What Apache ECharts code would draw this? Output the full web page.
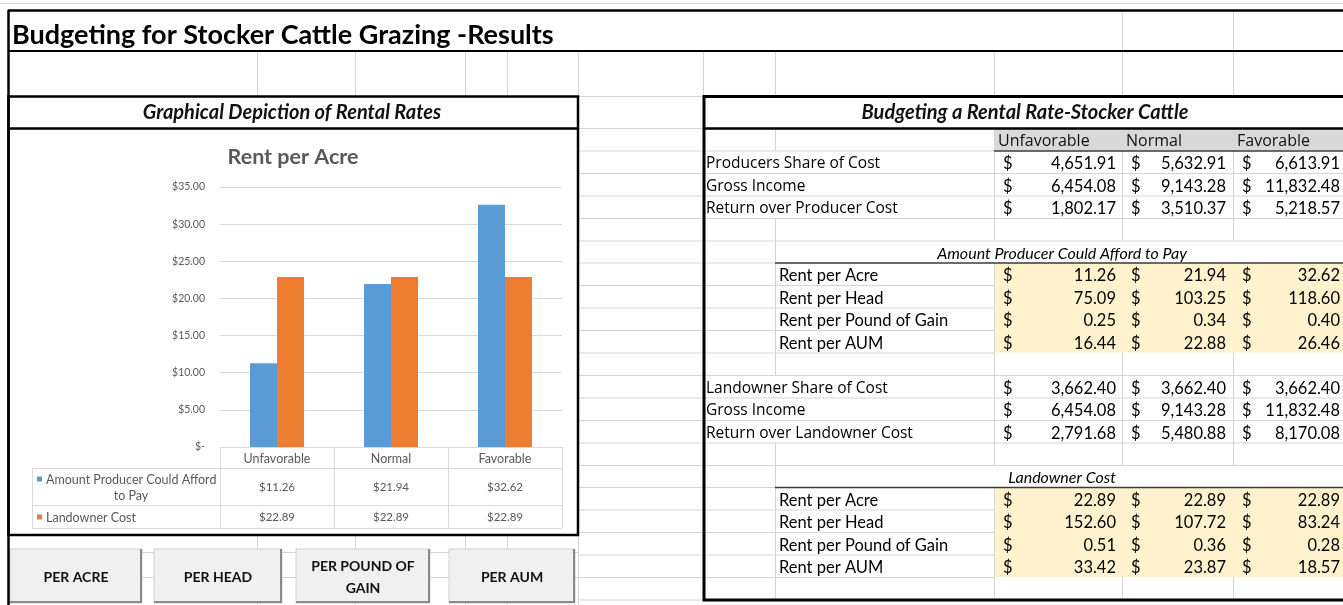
<!DOCTYPE html>
<html><head><meta charset="utf-8">
<script src="https://cdn.jsdelivr.net/npm/echarts@6/dist/echarts.min.js"></script>
<style>html,body{margin:0;padding:0;background:#fff;overflow:hidden}#c{width:1343px;height:605px}</style>
</head><body><div id="c"></div>
<script>
// ---------- data ----------
const categories = ['Unfavorable', 'Normal', 'Favorable'];
const producerAfford = [11.26, 21.94, 32.62];
const landownerCost = [22.89, 22.89, 22.89];
const seriesNames = ['Amount Producer Could Afford to Pay', 'Landowner Cost'];
const yMin = 0, yMax = 35, yStep = 5;

const producerShareOfCost = [4651.91, 5632.91, 6613.91];
const producerGrossIncome = [6454.08, 9143.28, 11832.48];
const returnOverProducerCost = [1802.17, 3510.37, 5218.57];
const affordRentPerAcre = [11.26, 21.94, 32.62];
const affordRentPerHead = [75.09, 103.25, 118.60];
const affordRentPerPound = [0.25, 0.34, 0.40];
const affordRentPerAUM = [16.44, 22.88, 26.46];
const landownerShareOfCost = [3662.40, 3662.40, 3662.40];
const landownerGrossIncome = [6454.08, 9143.28, 11832.48];
const returnOverLandownerCost = [2791.68, 5480.88, 8170.08];
const landownerRentPerAcre = [22.89, 22.89, 22.89];
const landownerRentPerHead = [152.60, 107.72, 83.24];
const landownerRentPerPound = [0.51, 0.36, 0.28];
const landownerRentPerAUM = [33.42, 23.87, 18.57];
const rentLabels = ['Rent per Acre', 'Rent per Head', 'Rent per Pound of Gain', 'Rent per AUM'];
const buttonLabels = ['PER ACRE', 'PER HEAD', 'PER POUND OF\nGAIN', 'PER AUM'];

// ---------- styles ----------
const CAL = 'Lato, "Open Sans", sans-serif';
const SEG = '"Open Sans", "Noto Sans", sans-serif';
const GRIDC = '#d4d4d4';
const CHARTTXT = '#595959';

const chart = echarts.init(document.getElementById('c'), null, {renderer: 'canvas', width: 1343, height: 605});

chart.setOption({
  animation: false,
  backgroundColor: '#ffffff',
  title: {
    text: 'Rent per Acre', left: 288, top: 141, textAlign: 'center',
    textStyle: {fontFamily: CAL, fontWeight: 'bold', fontSize: 21.5, color: CHARTTXT}
  },
  grid: {left: 220, right: 781, top: 187, bottom: 158, containLabel: false},
  xAxis: {
    type: 'category', data: categories,
    axisLine: {lineStyle: {color: '#d9d9d9'}}, axisTick: {show: false}, axisLabel: {show: false}
  },
  yAxis: {
    type: 'value', min: yMin, max: yMax, interval: yStep,
    axisLine: {show: false}, axisTick: {show: false},
    axisLabel: {
      formatter: v => v === 0 ? '$-' : '$' + v.toFixed(2),
      fontFamily: CAL, fontSize: 10.5, color: CHARTTXT, margin: 15
    },
    splitLine: {lineStyle: {color: '#d9d9d9'}}
  },
  series: [
    {type: 'bar', name: seriesNames[0], data: producerAfford, barWidth: 27, barGap: '0%', itemStyle: {color: '#5b9bd5'}},
    {type: 'bar', name: seriesNames[1], data: landownerCost, barWidth: 27, barGap: '0%', itemStyle: {color: '#ed7d31'}}
  ]
});

// ---------- helpers ----------
const G = [];
function L(x1, y1, x2, y2, stroke, w, z) {
  G.push({type: 'line', silent: true, z: z || 1, shape: {x1, y1, x2, y2}, style: {stroke, lineWidth: w || 1}});
}
function R(x, y, w, h, fill, stroke, lw, z) {
  G.push({type: 'rect', silent: true, z: z || 0, shape: {x, y, width: w, height: h},
    style: {fill: fill || 'none', stroke: stroke || 'none', lineWidth: lw || 0}});
}
function T(x, y, text, font, align, fill, z) {
  G.push({type: 'text', silent: true, z: z || 5, x, y,
    style: {text, font, fill: fill || '#000', textAlign: align || 'left', align: align || 'left',
      textVerticalAlign: 'middle', verticalAlign: 'middle'}});
}
const fmt = v => v.toLocaleString('en-US', {minimumFractionDigits: 2, maximumFractionDigits: 2});

// ---------- sheet gridlines ----------
const RH = 22.45, R0 = 128;
const rowTop = i => Math.round((R0 + i * RH) * 2) / 2;
L(0, 3.5, 1343, 3.5, GRIDC);
[1122.5, 1233.5].forEach(x => L(x, 10, x, 51, GRIDC));
[257.5, 355.5, 465.5, 507.5, 578.5, 703.5, 775.5, 994.5, 1122.5, 1233.5].forEach(x => L(x, 51, x, 96, GRIDC));
L(578, 96.5, 703, 96.5, GRIDC);
for (let i = 0; i <= 22; i++) { const y = rowTop(i) + 0.5; L(578, y, 703, y, GRIDC); }
[257.5, 355.5, 465.5, 507.5, 578.5].forEach(x => L(x, 535, x, 605, GRIDC));
L(8, 552.5, 578, 552.5, GRIDC);
L(8, 577.5, 578, 577.5, GRIDC);

// ---------- right table ----------
const colL = [994, 1122, 1233];
const dollarX = [1003, 1131, 1242];
const numR = [1116, 1226, 1340];
const yellow = '#fff2cc';
R(994, rowTop(0), 349, rowTop(1) - rowTop(0), '#d9d9d9');
R(994, rowTop(6), 349, rowTop(10) - rowTop(6), yellow);
R(994, rowTop(16), 349, rowTop(20) - rowTop(16), yellow);

const rowKinds = ['hdr', 'lab', 'lab', 'lab', 'blank', 'sub', 'rent', 'rent', 'rent', 'rent', 'blank',
  'lab', 'lab', 'lab', 'blank', 'sub', 'rent', 'rent', 'rent', 'rent', 'blank'];
rowKinds.forEach((k, i) => {
  const y0 = rowTop(i), y1 = rowTop(i + 1);
  if (k !== 'lab') L(775.5, y0, 775.5, y1, GRIDC);
  if (k === 'lab' || k === 'blank') colL.forEach(x => L(x + 0.5, y0, x + 0.5, y1, GRIDC));
  if (k === 'rent') L(994.5, y0, 994.5, y1, GRIDC);
  const yb = y1 + 0.5;
  if (k === 'sub') { L(703, yb, 775, yb, GRIDC); L(775, yb, 1343, yb, '#3a3a3a', 1.5, 2); }
  else if (k === 'hdr') { L(703, yb, 994, yb, GRIDC); L(994, yb, 1343, yb, '#3a3a3a', 1.5, 2); }
  else if (k === 'rent') { L(703, yb, 994, yb, GRIDC); }
  else { L(703, yb, 1343, yb, GRIDC); }
});
categories.forEach((c, j) => T(colL[j] + 4, (rowTop(0) + rowTop(1)) / 2 + 2, c, '16px ' + SEG, 'left', '#111'));
function valueRow(i, label, vals, labelX, labelFont) {
  const yc = (rowTop(i) + rowTop(i + 1)) / 2 + 2;
  T(labelX, yc, label, labelFont);
  vals.forEach((v, j) => {
    T(dollarX[j], yc, '$', '16.5px ' + CAL);
    T(numR[j], yc, fmt(v), '16.5px ' + CAL, 'right');
  });
}
const LABF = '15.5px ' + SEG;
const RENTF = '16.5px ' + CAL;
valueRow(1, 'Producers Share of Cost', producerShareOfCost, 706, LABF);
valueRow(2, 'Gross Income', producerGrossIncome, 706, LABF);
valueRow(3, 'Return over Producer Cost', returnOverProducerCost, 706, LABF);
T(1062, (rowTop(5) + rowTop(6)) / 2 + 2, 'Amount Producer Could Afford to Pay', 'italic 16px ' + CAL, 'center');
[affordRentPerAcre, affordRentPerHead, affordRentPerPound, affordRentPerAUM].forEach((vals, k) =>
  valueRow(6 + k, rentLabels[k], vals, 779, RENTF));
valueRow(11, 'Landowner Share of Cost', landownerShareOfCost, 706, LABF);
valueRow(12, 'Gross Income', landownerGrossIncome, 706, LABF);
valueRow(13, 'Return over Landowner Cost', returnOverLandownerCost, 706, LABF);
T(1062, (rowTop(15) + rowTop(16)) / 2 + 2, 'Landowner Cost', 'italic 16px ' + CAL, 'center');
[landownerRentPerAcre, landownerRentPerHead, landownerRentPerPound, landownerRentPerAUM].forEach((vals, k) =>
  valueRow(16 + k, rentLabels[k], vals, 779, RENTF));

// ---------- thick borders & titles ----------
L(8, 10.5, 1343, 10.5, '#000', 2.5, 3);
L(8, 51, 1343, 51, '#000', 2, 3);
L(8.5, 10, 8.5, 605, '#000', 2.5, 3);
T(12, 35, 'Budgeting for Stocker Cattle Grazing -Results', 'bold 27px ' + CAL, 'left', '#000');
R(8.5, 96.5, 569.5, 438.5, 'none', '#000', 2.5, 3);
L(8, 128.5, 578, 128.5, '#000', 2.5, 3);
T(292, 113, 'Graphical Depiction of Rental Rates', 'italic bold 20px ' + CAL, 'center', '#111');
R(704, 96.5, 660, 503.5, 'none', '#000', 3, 3);
L(703, 128.5, 1343, 128.5, '#000', 2.5, 3);
T(1025, 113, 'Budgeting a Rental Rate-Stocker Cattle', 'italic bold 20px ' + CAL, 'center', '#111');

// ---------- buttons ----------
const btnX = [[10, 142], [154, 282], [296, 430], [449, 575]];
buttonLabels.forEach((lab, k) => {
  const [x0, x1] = btnX[k];
  const y0 = 549, y1 = 603;
  R(x0, y0, x1 - x0, y1 - y0, '#f0f0f0', '#d0d0d0', 1, 2);
  L(x1 - 1, y0, x1 - 1, y1, '#8a8a8a', 2, 3);
  L(x0, y1 - 1, x1, y1 - 1, '#8a8a8a', 2, 3);
  const parts = lab.split('\n');
  const cx = (x0 + x1) / 2, cy = (y0 + y1) / 2 + 1;
  parts.forEach((p, m) => T(cx, cy + (m - (parts.length - 1) / 2) * 22, p, 'bold 14px ' + CAL, 'center', '#111'));
});

// ---------- chart data table (via axis scales) ----------
const centers = categories.map((c, i) => chart.convertToPixel({xAxisIndex: 0}, i));
const band = centers[1] - centers[0];
const zeroY = chart.convertToPixel({yAxisIndex: 0}, 0);
const tL = 32, cL = centers[0] - band / 2, cR = centers[centers.length - 1] + band / 2;
const rA = zeroY, rB = zeroY + 21, rC = zeroY + 58, rD = zeroY + 81;
const TC = '#d9d9d9';
L(cL, rB + 0.5, cR, rB + 0.5, TC); L(tL, rB + 0.5, cL, rB + 0.5, TC);
L(tL, rC + 0.5, cR, rC + 0.5, TC); L(tL, rD + 0.5, cR, rD + 0.5, TC);
L(tL + 0.5, rB, tL + 0.5, rD, TC);
[cL].concat(centers.map(c => c + band / 2)).forEach(x => L(Math.round(x) + 0.5, rA, Math.round(x) + 0.5, rD, TC));
const TBF = '12.5px ' + CAL;
categories.forEach((c, i) => T(centers[i], (rA + rB) / 2 + 1, c, TBF, 'center', CHARTTXT));
const seriesVals = [producerAfford, landownerCost];
const seriesCols = ['#5b9bd5', '#ed7d31'];
const rowMid = [(rB + rC) / 2, (rC + rD) / 2];
R(37, rowMid[0] - 10, 5, 5, seriesCols[0], null, 0, 4);
T(46, rowMid[0] - 7, 'Amount Producer Could Afford', TBF, 'left', CHARTTXT);
T(131, rowMid[0] + 9, 'to Pay', TBF, 'center', CHARTTXT);
R(37, rowMid[1] - 2, 5, 5, seriesCols[1], null, 0, 4);
T(46, rowMid[1] + 1, seriesNames[1], TBF, 'left', CHARTTXT);
seriesVals.forEach((vals, s) => vals.forEach((v, i) =>
  T(centers[i], rowMid[s] + 1, '$' + v.toFixed(2), '11.5px ' + CAL, 'center', CHARTTXT)));

chart.setOption({graphic: {elements: G}});
</script>
</body></html>
